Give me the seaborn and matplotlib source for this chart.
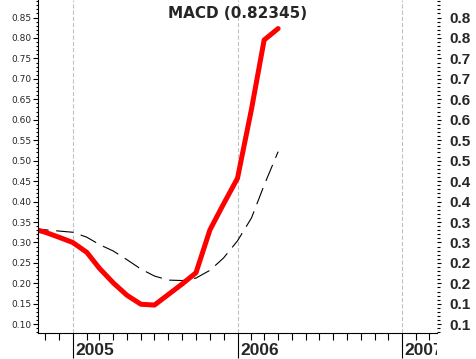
import matplotlib
matplotlib.use("Agg")
import matplotlib.pyplot as plt
import matplotlib.dates as mdates
from matplotlib.ticker import MultipleLocator, NullFormatter
from matplotlib.patches import Rectangle
from matplotlib.transforms import blended_transform_factory, ScaledTranslation
import seaborn as sns
import pandas as pd

# ---- data ----
dates = pd.date_range("2004-10-01", "2006-04-01", freq="MS")
macd = [0.335, 0.325, 0.313, 0.300, 0.276, 0.237, 0.201, 0.171, 0.149, 0.147,
        0.173, 0.199, 0.226, 0.331, 0.394, 0.457, 0.626, 0.795, 0.823]
signal = [0.333, 0.331, 0.328, 0.325, 0.313, 0.295, 0.279, 0.258, 0.235, 0.218,
          0.208, 0.207, 0.213, 0.232, 0.262, 0.304, 0.360, 0.440, 0.522]
left_ticks = [0.10, 0.15, 0.20, 0.25, 0.30, 0.35, 0.40, 0.45,
              0.50, 0.55, 0.60, 0.65, 0.70, 0.75, 0.80, 0.85]
left_labels = ["0.10", "0.15", "0.20", "0.25", "0.30", "0.35", "0.40", "0.45",
               "0.50", "0.55", "0.60", "0.65", "0.70", "0.75", "0.80", "0.85"]
right_labels = ["0.1", "0.1", "0.2", "0.2", "0.3", "0.3", "0.4", "0.4",
                "0.5", "0.5", "0.6", "0.6", "0.7", "0.7", "0.8", "0.8"]
years = ["2005", "2006", "2007"]
title = "MACD (0.82345)"

sns.set_style("ticks")
plt.rcParams["font.family"] = ["DejaVu Sans"]
plt.rcParams["lines.scale_dashes"] = False

W, H = 476, 359
fig = plt.figure(figsize=(W / 100, H / 100), dpi=100)
ax = fig.add_axes([38 / W, 26 / H, 399 / W, 333 / H])

df = pd.DataFrame({"date": dates, "macd": macd, "signal": signal})
sns.lineplot(data=df, x="date", y="signal", ax=ax, color="black", linewidth=0.8)
sns.lineplot(data=df, x="date", y="macd", ax=ax, color="#ff0000", linewidth=3.6)
ax.lines[0].set_linestyle((0, (12.5, 5.5)))

ax.set_xlim(mdates.date2num(pd.Timestamp("2004-10-16")),
            mdates.date2num(pd.Timestamp("2007-03-19")))
ylim = (0.0787, 0.8928)
ax.set_ylim(*ylim)
ax.set_xlabel("")
ax.set_ylabel("")

for s in ["top", "right"]:
    ax.spines[s].set_visible(False)
for s in ["left", "bottom"]:
    ax.spines[s].set_linewidth(0.8)
    ax.spines[s].set_color("black")

# x axis
ax.xaxis.set_major_locator(mdates.YearLocator())
ax.xaxis.set_minor_locator(mdates.MonthLocator())
ax.xaxis.set_major_formatter(NullFormatter())
ax.tick_params(axis="x", which="major", length=18, width=0.8, direction="out", color="black")
ax.tick_params(axis="x", which="minor", length=5, width=0.8, direction="out", color="black")
ax.grid(axis="x", which="major", color="#c0c0c0", linestyle=(0, (3, 1.5)), linewidth=0.8)
ax.grid(axis="y", visible=False)

# left y axis
ax.set_yticks(left_ticks)
ax.set_yticklabels(left_labels, fontsize=6.5, family="DejaVu Sans")
ax.yaxis.set_minor_locator(MultipleLocator(0.01))
ax.tick_params(axis="y", which="major", length=3.6, width=0.8, pad=1.2, color="black")
ax.tick_params(axis="y", which="minor", length=1.8, width=0.8, color="black")

# right y axis
ax2 = ax.twinx()
ax2.set_ylim(*ylim)
for s in ax2.spines.values():
    s.set_visible(False)
ax2.set_yticks(left_ticks)
ax2.set_yticklabels(right_labels, fontsize=11, fontweight="bold", family="Liberation Sans")
ax2.yaxis.set_minor_locator(MultipleLocator(0.01))
ax2.tick_params(axis="y", which="major", length=3.2, width=0.8, pad=5.5, color="black")
ax2.tick_params(axis="y", which="minor", length=2.2, width=0.8, color="black")
ax2.set_ylabel("")

# year labels
trans = blended_transform_factory(ax.transData, ax.transAxes) + \
    ScaledTranslation(2.5 / 100, 0, fig.dpi_scale_trans)
clip = Rectangle((0, 0), 437 / W, 1, transform=fig.transFigure)
for y in years:
    t = ax.text(mdates.date2num(pd.Timestamp(f"{y}-01-01")), -22 / 333, y,
                transform=trans, fontsize=12.5, fontweight="bold",
                family="Liberation Sans", ha="left", va="baseline", clip_on=True)
    t.set_clip_path(clip)

ax.text(0.5, 1 - 18 / 333, title, transform=ax.transAxes, ha="center", va="baseline",
        fontsize=11, fontweight="bold", family="DejaVu Sans")

fig.savefig("out.png", dpi=100)
